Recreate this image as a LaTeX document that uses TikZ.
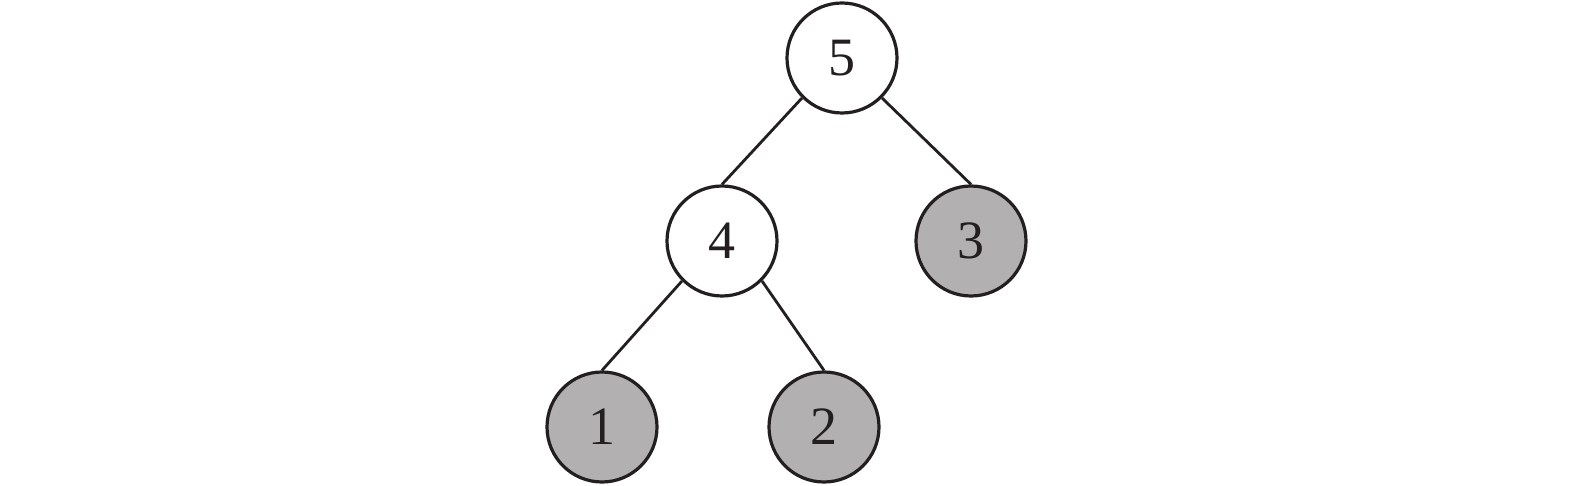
\documentclass[tikz,border=0pt]{standalone}
\usepackage{fontspec}
\setmainfont{Liberation Serif}
\definecolor{ink}{HTML}{231F20}
\definecolor{leaf}{HTML}{B2B0B1}
\begin{document}
\begin{tikzpicture}[x=1pt,y=-1pt,
  tnode/.style={circle,draw=ink,line width=3.2pt,minimum size=110pt,inner sep=0pt,font=\fontsize{54}{54}\selectfont,text=ink,fill=white},
  lnode/.style={tnode,fill=leaf},
  edge/.style={draw=ink,line width=2.8pt}]
\useasboundingbox (0,0) rectangle (1575,486);
\node[tnode] (n5) at (842,58) {5};
\node[tnode] (n4) at (722,241) {4};
\node[lnode] (n3) at (971,241) {3};
\node[lnode] (n1) at (602,427) {1};
\node[lnode] (n2) at (824,427) {2};
\draw[edge] (n5.south west) -- (n4.north);
\draw[edge] (n5.south east) -- (n3.north);
\draw[edge] (n4.south west) -- (n1.north);
\draw[edge] (n4.south east) -- (n2.north);
\end{tikzpicture}
\end{document}
